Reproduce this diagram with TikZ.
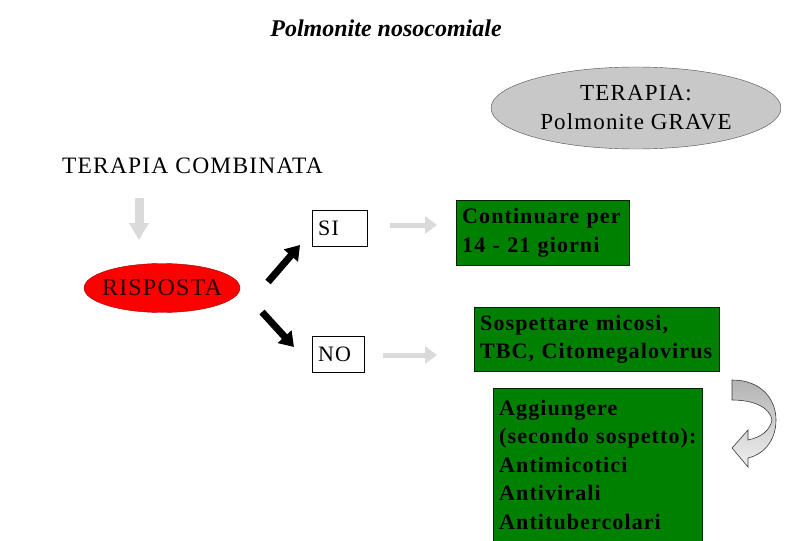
\documentclass[tikz,border=0pt]{standalone}
\usepackage{fontspec}
\setmainfont{Liberation Serif}
\newfontfamily\slidefont[LetterSpace=5]{Liberation Serif}
\usetikzlibrary{arrows.meta,shapes.geometric,positioning}

\definecolor{boxgreen}{RGB}{0,128,0}
\definecolor{ovalgray}{RGB}{200,200,200}
\definecolor{arrowgray}{RGB}{218,218,218}

\tikzset{
  slidetext/.style={font=\slidefont\fontsize{23.5}{28}\selectfont, inner sep=0pt},
  greenbox/.style={draw=black!85!green, fill=boxgreen, anchor=north west,
    font=\slidefont\bfseries\fontsize{22}{28.5}\selectfont, align=left, inner xsep=6pt, inner ysep=3pt},
  answerbox/.style={draw, fill=white, anchor=west, align=left, inner xsep=6pt,
    minimum height=36pt, font=\slidefont\fontsize{22}{28}\selectfont},
  grayarrow/.style={arrowgray, line width=5pt, -{Triangle[length=12pt,width=17pt]}},
  blackarrow/.style={black, line width=7pt, -{Triangle[length=14pt,width=18pt]}}
}

\begin{document}
\begin{tikzpicture}[x=1pt, y=-1pt]
  \useasboundingbox (0,0) rectangle (810,540);

  % Title
  \node[font=\bfseries\itshape\fontsize{24}{28}\selectfont, inner sep=0pt] (title) at (386,28) {Polmonite nosocomiale};

  % Top right oval
  \node[ellipse, fill=ovalgray, draw=black!70, minimum width=290pt, minimum height=82pt,
        inner sep=0pt, align=center, font=\slidefont\fontsize{23}{29}\selectfont] (terapia) at (636,108)
        {TERAPIA:\\Polmonite GRAVE};

  % Left column
  \node[slidetext, anchor=west] (combinata) at (62,166) {TERAPIA COMBINATA};
  \node[ellipse, fill=red, draw=red!60!black, minimum width=156pt, minimum height=49pt,
        inner ysep=0pt, inner xsep=-5pt, font=\slidefont\fontsize{24}{28}\selectfont,
        text=black!85!red] (risposta) at (162,288) {RISPOSTA};

  % Answers
  \node[answerbox, text width=43pt] (si) at (312,228) {SI};
  \node[answerbox, text width=40pt] (no) at (312,354) {NO};

  % Green boxes
  \node[greenbox, text width=161pt, minimum height=65pt] (continua) at (456,200)
        {Continuare per\\14 - 21 giorni};
  \node[greenbox, text width=233pt, minimum height=64pt] (sospetta) at (474,307)
        {Sospettare micosi,\\TBC, Citomegalovirus};
  \node[greenbox, text width=197pt, minimum height=153pt] (aggiungi) at (493,388)
        {Aggiungere\\(secondo sospetto):\\Antimicotici\\Antivirali\\Antitubercolari};

  % Arrow end points
  \coordinate (downtop) at (139,198);
  \coordinate (downend) at (139,240);
  \coordinate (upstart) at (268,282);
  \coordinate (upend) at (300,245);
  \coordinate (lowstart) at (262,312);
  \coordinate (lowend) at (294,347);
  \coordinate (sistart) at (390,225);
  \coordinate (siend) at (437,225);
  \coordinate (nostart) at (383,355);
  \coordinate (noend) at (437,355);

  % Gray arrows
  \draw[arrowgray, line width=9pt, -{Triangle[length=17pt,width=19pt]}] (downtop) -- (downend);
  \draw[grayarrow] (sistart) -- (siend);
  \draw[grayarrow] (nostart) -- (noend);

  % Black arrows
  \draw[blackarrow] (upstart) -- (upend);
  \draw[blackarrow] (lowstart) -- (lowend);

  % Curved arrow
  \shade[top color=gray!60, bottom color=gray!12, draw=gray!45!black, line width=0.6pt]
    (732,380) .. controls (762,380) and (776,400) .. (776,420)
    .. controls (776,442) and (762,455) .. (748,458)
    -- (748,467) -- (732,448) -- (748,430) -- (748,440)
    .. controls (762,437) and (770,430) .. (772,420)
    .. controls (770,408) and (755,400) .. (732,400) -- cycle;
\end{tikzpicture}
\end{document}
